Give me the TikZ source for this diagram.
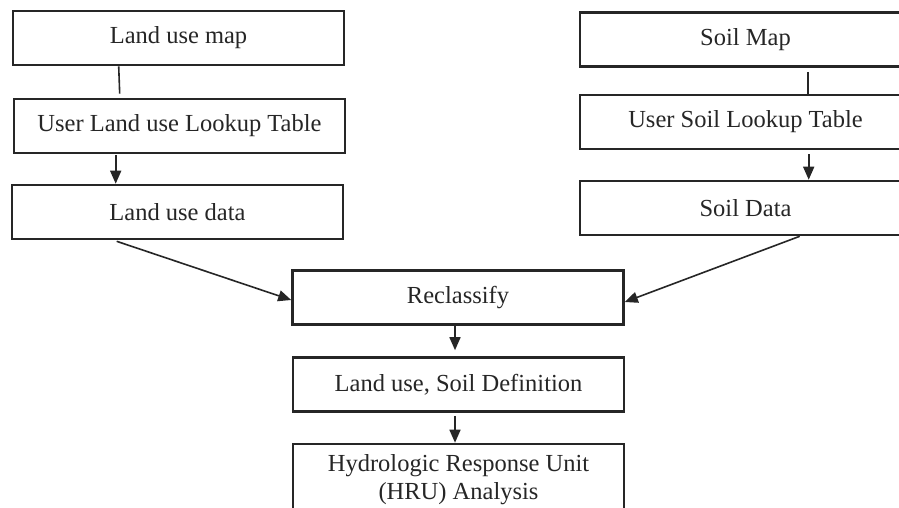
\documentclass[tikz,border=0pt]{standalone}
\usepackage{fontspec}
\setmainfont{Liberation Serif}
\usetikzlibrary{arrows.meta}
\begin{document}
\begin{tikzpicture}[x=1pt,y=-1pt,
  box/.style={draw=black!85,line width=2.6pt,minimum width=331pt,minimum height=54pt,inner sep=0pt,
    font=\fontsize{24.5}{28}\selectfont,text=black!85,align=center},
  link/.style={draw=black!85,line width=1.6pt},
  arr/.style={link,-{Triangle[length=13pt,width=11pt]}}]
\useasboundingbox (0,0) rectangle (899,508);
\clip (0,0) rectangle (899,508);
\fill[white] (0,0) rectangle (899,508);
% left column
\node[box] (lmap) at (178.5,38) {Land use map};
\node[box] (llut) at (179.5,126) {User Land use Lookup Table};
\node[box] (ldata) at (177.5,212) {Land use data};
% right column
\node[box] (smap) at (745.5,39.5) {Soil Map};
\node[box] (slut) at (745.5,122) {User Soil Lookup Table};
\node[box] (sdata) at (745.5,208) {Soil Data};
% centre column
\node[box] (recl) at (458,297.5) {Reclassify};
\node[box] (ldef) at (458.5,384.5) {Land use, Soil Definition};
\node[box,minimum height=72pt] (hru) at (458.5,480) {Hydrologic Response Unit\\(HRU) Analysis};
% connectors
\draw[link] ([xshift=107pt]lmap.south west) -- ([xshift=107pt,yshift=4pt]llut.north west);
\draw[arr] ([xshift=103pt,yshift=-1pt]llut.south west) -- ([xshift=105pt]ldata.north west);
\draw[link] ([xshift=229pt,yshift=-4pt]smap.south west) -- ([xshift=229pt]slut.north west);
\draw[arr] ([xshift=230pt,yshift=-4pt]slut.south west) -- ([xshift=230pt]sdata.north west);
\draw[arr] ([xshift=106pt,yshift=-1pt]ldata.south west) -- ([yshift=-2.5pt]recl.west);
\draw[arr] ([xshift=221pt]sdata.south west) -- ([yshift=-4.5pt]recl.east);
\draw[arr] ([xshift=-3pt]recl.south) -- ([xshift=-3.5pt,yshift=6pt]ldef.north);
\draw[arr] ([xshift=-3.5pt,yshift=-3pt]ldef.south) -- ([xshift=-3.5pt]hru.north);
\end{tikzpicture}
\end{document}
